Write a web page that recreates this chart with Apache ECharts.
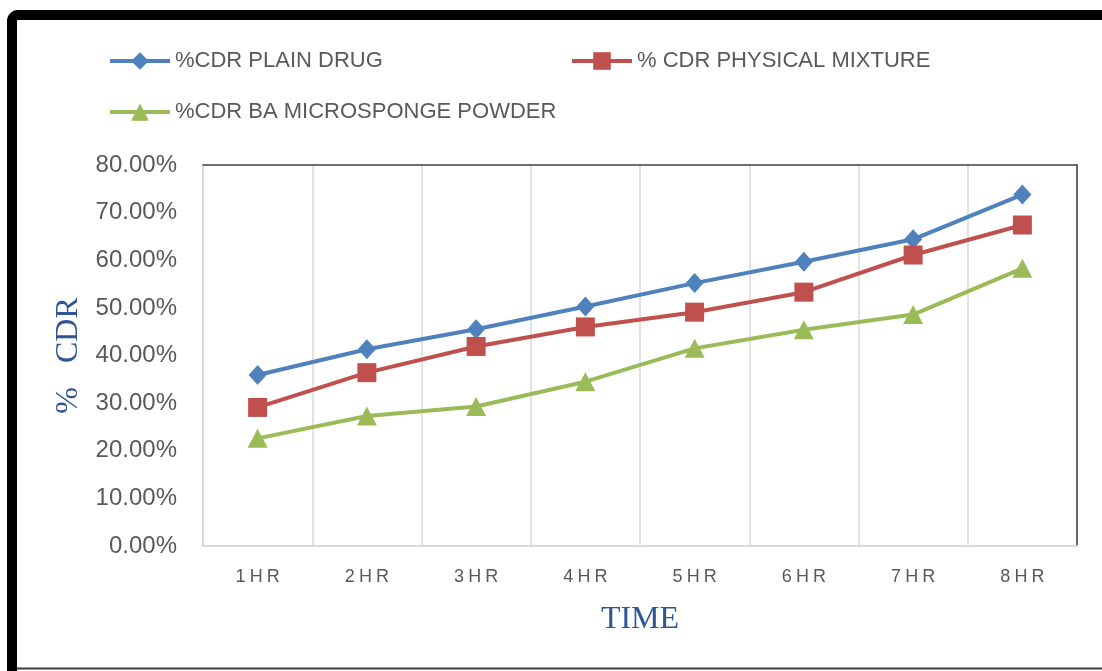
<!DOCTYPE html>
<html>
<head>
<meta charset="utf-8">
<script src="https://cdn.jsdelivr.net/npm/echarts@6/dist/echarts.min.js"></script>
<style>
html,body{margin:0;padding:0;background:#fff;}
#chart{width:1102px;height:671px;}
</style>
</head>
<body>
<div id="chart"></div>
<script>
var categories = ['1HR','2HR','3HR','4HR','5HR','6HR','7HR','8HR'];
var plainDrug = [35.9, 41.3, 45.5, 50.3, 55.2, 59.7, 64.4, 73.8];
var physicalMixture = [29.1, 36.4, 41.9, 46.0, 49.1, 53.3, 61.1, 67.4];
var microspongePowder = [22.6, 27.3, 29.3, 34.5, 41.5, 45.4, 48.6, 58.3];
var seriesNames = ['%CDR PLAIN DRUG', '% CDR PHYSICAL MIXTURE', '%CDR BA MICROSPONGE POWDER'];
var yTicks = {min: 0, max: 80, interval: 10};

var chart = echarts.init(document.getElementById('chart'));
var sans = '"Liberation Sans", Arial, sans-serif';
var serif = '"Liberation Serif", "Times New Roman", serif';
var textGray = '#595959';
var nameBlue = '#2F5597';

function legendAt(name, left, top) {
  return {
    data: [name], left: left, top: top, itemWidth: 60, itemHeight: 22,
    lineStyle: {width: 4},
    textStyle: {fontFamily: sans, fontSize: 22, color: textGray},
    padding: 0
  };
}

var option = {
  backgroundColor: '#fff',
  animation: false,
  graphic: [
    {type: 'rect', shape: {x: 12, y: 15, width: 1200, height: 800, r: 6},
     style: {fill: 'none', stroke: '#000', lineWidth: 10}, z: 100},
    {type: 'line', shape: {x1: 17, y1: 668.5, x2: 1102, y2: 668.5},
     style: {stroke: '#3a3a3a', lineWidth: 2}, z: 100}
  ],
  legend: [
    legendAt(seriesNames[0], 108, 50),
    legendAt(seriesNames[1], 570, 50),
    legendAt(seriesNames[2], 108, 101)
  ],
  grid: {left: 203, right: 25, top: 165, bottom: 125, containLabel: false},
  xAxis: [{
    type: 'category', data: categories, boundaryGap: true,
    axisLine: {show: true, lineStyle: {color: '#D9D9D9', width: 2}},
    axisTick: {show: false},
    splitLine: {show: true, lineStyle: {color: '#D9D9D9', width: 1.5}},
    axisLabel: {
      margin: 22, interval: 0,
      formatter: function (v) { return v.split('').map(function (c) { return '{c|' + c + '}'; }).join(''); },
      rich: {c: {fontFamily: sans, fontSize: 18, color: textGray, padding: [0, 2, 0, 2]}}
    },
    name: 'TIME', nameLocation: 'middle', nameGap: 58,
    nameTextStyle: {fontFamily: serif, fontSize: 32, color: nameBlue}
  }, {
    type: 'category', data: categories, position: 'top',
    axisLine: {show: true, onZero: false, lineStyle: {color: '#404040', width: 1.5}},
    axisTick: {show: false}, axisLabel: {show: false}, splitLine: {show: false}
  }],
  yAxis: [{
    type: 'value', min: yTicks.min, max: yTicks.max, interval: yTicks.interval,
    axisLine: {show: true, lineStyle: {color: '#D9D9D9', width: 2}},
    axisTick: {show: false},
    splitLine: {show: false},
    axisLabel: {
      margin: 26, fontFamily: sans, fontSize: 24, color: textGray,
      formatter: function (v) { return v.toFixed(2) + '%'; }
    },
    name: '%   CDR', nameLocation: 'middle', nameGap: 112, nameRotate: 90,
    nameTextStyle: {fontFamily: serif, fontSize: 32, color: nameBlue}
  }, {
    type: 'value', min: yTicks.min, max: yTicks.max, interval: yTicks.interval, position: 'right',
    axisLine: {show: true, onZero: false, lineStyle: {color: '#404040', width: 1.5}},
    axisTick: {show: false}, axisLabel: {show: false}, splitLine: {show: false}
  }],
  series: [
    {name: seriesNames[0], type: 'line', data: plainDrug, symbol: 'diamond', symbolSize: [18, 20],
     lineStyle: {color: '#4F81BD', width: 4}, itemStyle: {color: '#4F81BD'}},
    {name: seriesNames[1], type: 'line', data: physicalMixture, symbol: 'rect', symbolSize: 19,
     lineStyle: {color: '#C0504D', width: 4}, itemStyle: {color: '#C0504D'}},
    {name: seriesNames[2], type: 'line', data: microspongePowder, symbol: 'triangle', symbolSize: [20, 19],
     lineStyle: {color: '#9BBB59', width: 4}, itemStyle: {color: '#9BBB59'}}
  ]
};
chart.setOption(option);
</script>
</body>
</html>
